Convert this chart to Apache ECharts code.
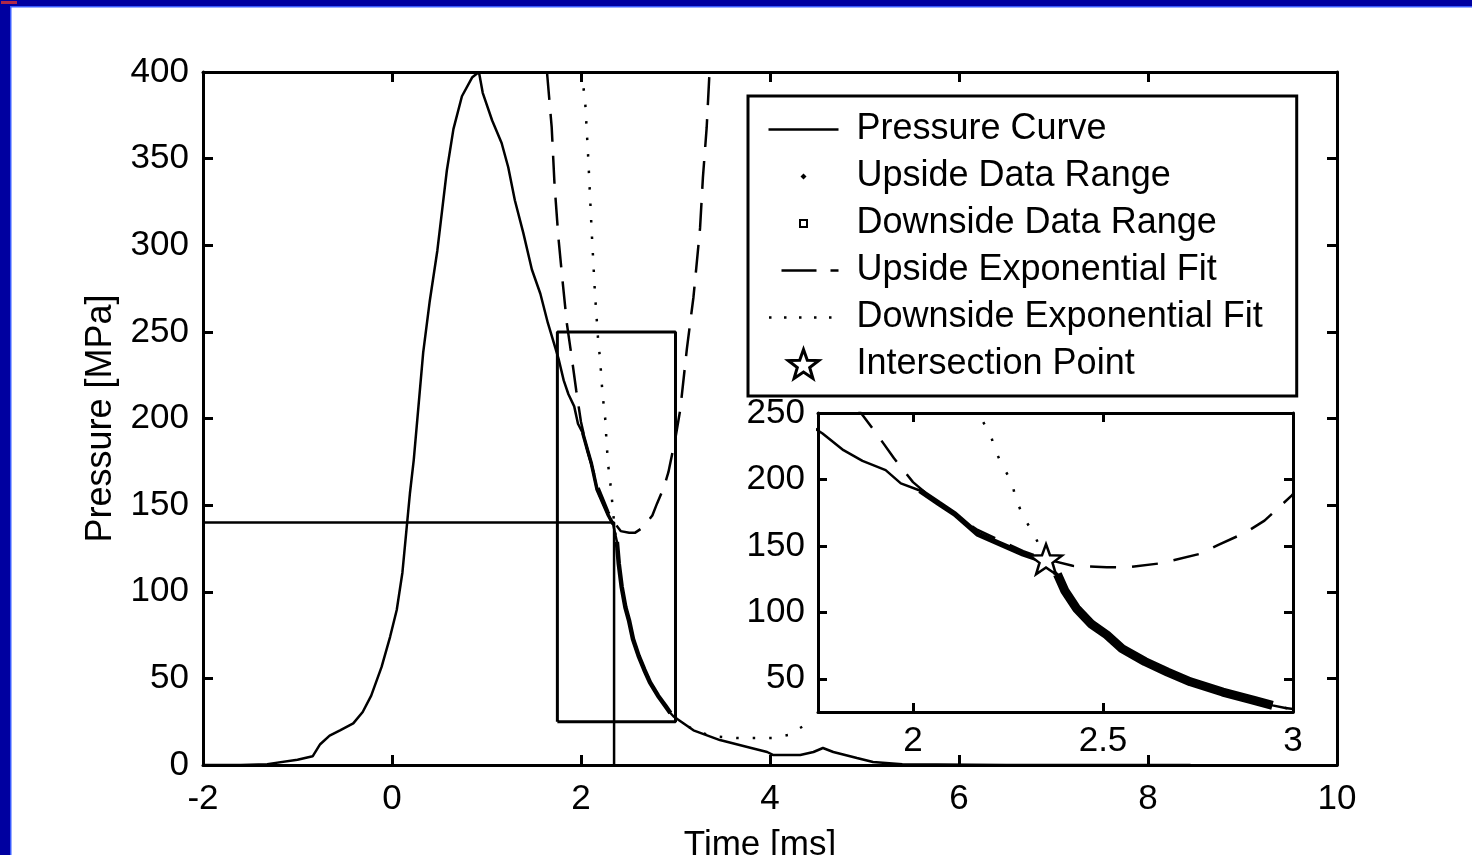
<!DOCTYPE html>
<html>
<head>
<meta charset="utf-8">
<script src="https://cdn.jsdelivr.net/npm/echarts@6/dist/echarts.min.js"></script>
<style>
html,body{margin:0;padding:0;background:#fff;}
#c{width:1472px;height:855px;}
</style>
</head>
<body>
<div id="c"></div>
<script>
// ---- data ----
const pressureTime = [
  -2, -1.6, -1.32, -1.0, -0.84, -0.76, -0.66, -0.55, -0.41, -0.31,
  -0.22, -0.11, -0.02, 0.05, 0.11, 0.15, 0.19, 0.23, 0.33, 0.40,
  0.48, 0.53, 0.58, 0.65, 0.74, 0.85, 0.92, 0.96, 1.06, 1.16,
  1.23, 1.30, 1.39, 1.48, 1.57, 1.65, 1.70, 1.762, 1.817, 1.867,
  1.928, 1.968, 2.018, 2.068, 2.11, 2.17, 2.23, 2.29, 2.34, 2.38,
  2.40, 2.43, 2.47, 2.51, 2.55, 2.61, 2.67, 2.73, 2.815, 2.895,
  2.946, 2.98, 3.19, 3.47, 3.76, 3.97, 4.03, 4.32, 4.46, 4.56,
  4.67, 4.92, 5.09, 5.4, 6.5, 7.5, 8.45
];
const pressureValue = [
  0, 0, 0.5, 3, 5, 12, 17, 20, 24, 30.6,
  40, 56.6, 74, 89.5, 111, 134, 157, 176, 238, 268,
  297, 320, 343, 367, 386, 397, 400, 388, 372, 359,
  345, 326, 307, 286, 272, 255, 246, 234.6, 222, 214,
  207, 197, 191.7, 182, 174, 159, 151.5, 144, 139, 128.8,
  116, 103, 91, 83, 72.7, 63, 55, 47.7, 40, 34,
  30, 28, 20, 14.4, 10.4, 7.5, 5.8, 5.8, 7.5, 9.8,
  7.5, 4, 1.7, 0.5, 0, 0, 0
];
const upFitTime = [1.64, 1.69, 1.72, 1.76, 1.80, 1.85, 1.90, 1.95, 2.00, 2.07,
  2.17, 2.29, 2.35, 2.42, 2.51, 2.57, 2.654, 2.755, 2.805, 2.875,
  2.925, 2.997, 3.05, 3.12, 3.15, 3.19, 3.22, 3.26, 3.29, 3.33, 3.36];
const upFitValue = [400, 368, 335, 305, 282, 255, 236, 216, 198, 181,
  162, 146, 140, 135, 134, 134, 137, 144, 151, 160,
  169, 188, 205, 240, 253, 270, 287, 310, 339, 368, 400];
const downFitTime = [2.00, 2.042, 2.077, 2.113, 2.148, 2.183, 2.205, 2.215, 2.234, 2.26,
  2.27, 2.29, 2.316, 2.35, 2.40, 2.47, 2.55, 2.67, 2.815, 2.946,
  3.0, 3.2, 3.4, 3.65, 3.84, 4.02, 4.19, 4.37];
const downFitValue = [400, 385, 350, 308, 272, 244, 233, 223, 211, 198,
  186, 172, 160, 140, 116, 91, 73, 55, 40, 30,
  27, 20, 16.5, 15.6, 15.6, 15.6, 17.3, 23];
const intersectionPoint = [2.35, 140];
const upsideRange = [2.0, 2.345];
const downsideRange = [2.375, 2.96];
const zoomTime = [1.75, 3];
const zoomPressure = [25, 250];
const mainTimeTicks = [-2, 0, 2, 4, 6, 8, 10];
const mainPressureTicks = [0, 50, 100, 150, 200, 250, 300, 350, 400];
const insetTimeTicks = [2, 2.5, 3];
const insetPressureTicks = [50, 100, 150, 200, 250];

// ---- derived ----
const zip = (a, b) => a.map((x, i) => [x, b[i]]);
const pressure = zip(pressureTime, pressureValue);
const upFit = zip(upFitTime, upFitValue);
const downFit = zip(downFitTime, downFitValue);
const upsideData = pressure.filter(p => p[0] >= upsideRange[0] && p[0] <= upsideRange[1]);
const downsideData = pressure.filter(p => p[0] >= downsideRange[0] && p[0] <= downsideRange[1]);
const zoomBox = [
  [zoomTime[0], zoomPressure[0]], [zoomTime[0], zoomPressure[1]],
  [zoomTime[1], zoomPressure[1]], [zoomTime[1], zoomPressure[0]],
  [zoomTime[0], zoomPressure[0]]
];
const crossLines = [
  [mainTimeTicks[0], intersectionPoint[1]],
  [intersectionPoint[0], intersectionPoint[1]],
  [intersectionPoint[0], mainPressureTicks[0]]
];

const FONT = '"Liberation Sans", Arial, Helvetica, sans-serif';
const BLACK = '#000';

const starPath = 'M16,0 L19.82,10.74 L31.22,11.06 L22.18,18.01 L25.4,28.94 L16,22.5 L6.6,28.94 L9.82,18.01 L0.78,11.06 L12.18,10.74 Z';
const starIcon = 'path://M0,0 M70,32 M35,1 L38.82,11.74 L50.22,12.06 L41.18,19.01 L44.4,29.94 L35,23.5 L25.6,29.94 L28.82,19.01 L19.78,12.06 L31.18,11.74 Z';
const solidIcon = 'path://M0,0 M70,32 M0,14.75 H70 V17.25 H0 Z';
const dashIcon = 'path://M0,0 M70,32 M13,14.75 H48 V17.25 H13 Z M62,14.75 H70 V17.25 H62 Z';
const dotIcon = 'path://M0,0 M70,32 M0.5,14.75 H3 V17.25 H0.5 Z M15.5,14.75 H18 V17.25 H15.5 Z M30.5,14.75 H33 V17.25 H30.5 Z M45.5,14.75 H48 V17.25 H45.5 Z M60.5,14.75 H63 V17.25 H60.5 Z';
const diamondIcon = 'path://M0,0 M70,32 M35,13 L38,16 L35,19 L32,16 Z';
const squareIcon = 'path://M0,0 M70,32 M30.5,11.5 H39.5 V20.5 H30.5 Z M32.5,13.5 V18.5 H37.5 V13.5 Z';

function axisCommon(extra) {
  return Object.assign({
    type: 'value',
    splitLine: { show: false },
    axisLine: { show: true, onZero: false, lineStyle: { color: BLACK, width: 3 } },
    axisTick: { show: true, inside: true, length: 10, lineStyle: { color: BLACK, width: 3 } },
    axisLabel: { show: true, color: BLACK, fontSize: 35, fontFamily: FONT, margin: 12 }
  }, extra);
}

const option = {
  backgroundColor: '#fff',
  animation: false,
  grid: [
    { left: 203, top: 72, width: 1134, height: 693, show: false, containLabel: false, outerBoundsMode: 'none' },
    { left: 818, top: 413, width: 475, height: 299, show: true, backgroundColor: '#fff', borderWidth: 0, z: 5,
      containLabel: false, outerBoundsMode: 'none' }
  ],
  xAxis: [
    axisCommon({ gridIndex: 0, position: 'bottom', min: mainTimeTicks[0], max: mainTimeTicks[mainTimeTicks.length - 1],
      axisTick: { show: true, inside: true, length: 10, customValues: mainTimeTicks, lineStyle: { color: BLACK, width: 3 } },
      axisLabel: { show: true, color: BLACK, fontSize: 35, fontFamily: FONT, margin: 17, customValues: mainTimeTicks },
      name: 'Time [ms]', nameLocation: 'middle', nameGap: 63,
      nameTextStyle: { color: BLACK, fontSize: 35, fontFamily: FONT, padding: [0, 20, 0, 0] } }),
    axisCommon({ gridIndex: 0, position: 'top', min: mainTimeTicks[0], max: mainTimeTicks[mainTimeTicks.length - 1],
      axisTick: { show: true, inside: true, length: 10, customValues: mainTimeTicks, lineStyle: { color: BLACK, width: 3 } },
      axisLabel: { show: false } }),
    axisCommon({ gridIndex: 1, position: 'bottom', min: zoomTime[0], max: zoomTime[1], z: 8,
      axisTick: { show: true, inside: true, length: 9, customValues: insetTimeTicks, lineStyle: { color: BLACK, width: 3 } },
      axisLabel: { show: true, color: BLACK, fontSize: 35, fontFamily: FONT, margin: 12, customValues: insetTimeTicks } }),
    axisCommon({ gridIndex: 1, position: 'top', min: zoomTime[0], max: zoomTime[1], z: 8,
      axisTick: { show: true, inside: true, length: 9, customValues: insetTimeTicks, lineStyle: { color: BLACK, width: 3 } },
      axisLabel: { show: false } })
  ],
  yAxis: [
    axisCommon({ gridIndex: 0, position: 'left', min: mainPressureTicks[0], max: mainPressureTicks[mainPressureTicks.length - 1],
      axisTick: { show: true, inside: true, length: 10, customValues: mainPressureTicks, lineStyle: { color: BLACK, width: 3 } },
      axisLabel: { show: true, color: BLACK, fontSize: 35, fontFamily: FONT, margin: 14, customValues: mainPressureTicks },
      name: 'Pressure [MPa]', nameLocation: 'middle', nameRotate: 90, nameGap: 84,
      nameTextStyle: { color: BLACK, fontSize: 36, fontFamily: FONT } }),
    axisCommon({ gridIndex: 0, position: 'right', min: mainPressureTicks[0], max: mainPressureTicks[mainPressureTicks.length - 1],
      axisTick: { show: true, inside: true, length: 10, customValues: mainPressureTicks, lineStyle: { color: BLACK, width: 3 } },
      axisLabel: { show: false } }),
    axisCommon({ gridIndex: 1, position: 'left', min: zoomPressure[0], max: zoomPressure[1], z: 8,
      axisTick: { show: true, inside: true, length: 9, customValues: insetPressureTicks, lineStyle: { color: BLACK, width: 3 } },
      axisLabel: { show: true, color: BLACK, fontSize: 35, fontFamily: FONT, margin: 13, customValues: insetPressureTicks } }),
    axisCommon({ gridIndex: 1, position: 'right', min: zoomPressure[0], max: zoomPressure[1], z: 8,
      axisTick: { show: true, inside: true, length: 9, customValues: insetPressureTicks, lineStyle: { color: BLACK, width: 3 } },
      axisLabel: { show: false } })
  ],
  legend: {
    orient: 'vertical', left: 748, top: 96, selectedMode: false, z: 6,
    itemWidth: 70, itemHeight: 32, itemGap: 0,
    padding: [10, 34, 8, 19],
    backgroundColor: '#fff', borderColor: BLACK, borderWidth: 3,
    textStyle: { color: BLACK, fontSize: 36, lineHeight: 47, fontFamily: FONT, padding: [0, 0, 0, 13] },
    data: [
      { name: 'Pressure Curve', icon: solidIcon, itemStyle: { color: BLACK, borderWidth: 0, opacity: 1 } },
      { name: 'Upside Data Range', icon: diamondIcon, itemStyle: { color: BLACK, borderWidth: 0, opacity: 1 } },
      { name: 'Downside Data Range', icon: squareIcon, itemStyle: { color: BLACK, borderWidth: 0, opacity: 1 } },
      { name: 'Upside Exponential Fit', icon: dashIcon, itemStyle: { color: BLACK, borderWidth: 0, opacity: 1 } },
      { name: 'Downside Exponential Fit', icon: dotIcon, itemStyle: { color: BLACK, borderWidth: 0, opacity: 1 } },
      { name: 'Intersection Point', icon: starIcon, itemStyle: { color: '#fff', borderColor: BLACK, borderWidth: 3, opacity: 1 } }
    ]
  },
  graphic: [
    { type: 'rect', shape: { x: 0, y: 0, width: 1472, height: 6 }, style: { fill: '#0000a0' }, z: 100 },
    { type: 'rect', shape: { x: 0, y: 6, width: 1472, height: 1.5 }, style: { fill: '#3a5cff' }, z: 100 },
    { type: 'rect', shape: { x: 0, y: 0, width: 10, height: 855 }, style: { fill: '#0000a0' }, z: 100 },
    { type: 'rect', shape: { x: 10, y: 7, width: 1.5, height: 848 }, style: { fill: '#3a5cff' }, z: 100 },
    { type: 'rect', shape: { x: 1, y: 1, width: 16, height: 3 }, style: { fill: '#b02848' }, z: 101 }
  ],
  series: [
    // ---- main plot ----
    { name: 'Pressure Curve', type: 'line', xAxisIndex: 0, yAxisIndex: 0, data: pressure, symbol: 'none',
      lineStyle: { color: BLACK, width: 2.5 }, itemStyle: { color: BLACK }, z: 2 },
    { name: 'Upside Data Range', type: 'line', xAxisIndex: 0, yAxisIndex: 0, data: upsideData, symbol: 'none',
      lineStyle: { color: BLACK, width: 3.5 }, itemStyle: { color: BLACK }, z: 2 },
    { name: 'Downside Data Range', type: 'line', xAxisIndex: 0, yAxisIndex: 0, data: downsideData, symbol: 'none',
      lineStyle: { color: BLACK, width: 4.5 }, itemStyle: { color: BLACK }, z: 2 },
    { name: 'Upside Exponential Fit', type: 'line', xAxisIndex: 0, yAxisIndex: 0, data: upFit, symbol: 'none',
      lineStyle: { color: BLACK, width: 2.5, type: [28, 14] }, itemStyle: { color: BLACK }, z: 2 },
    { name: 'Downside Exponential Fit', type: 'line', xAxisIndex: 0, yAxisIndex: 0, data: downFit, symbol: 'none',
      lineStyle: { color: BLACK, width: 2.5, type: [2.5, 14] }, itemStyle: { color: BLACK }, z: 2 },
    { name: 'zoomBox', type: 'line', xAxisIndex: 0, yAxisIndex: 0, data: zoomBox, symbol: 'none',
      lineStyle: { color: BLACK, width: 3 }, z: 2 },
    { name: 'crossLines', type: 'line', xAxisIndex: 0, yAxisIndex: 0, data: crossLines, symbol: 'none',
      lineStyle: { color: BLACK, width: 2.5 }, z: 2 },
    // ---- inset ----
    { name: 'Pressure Curve', type: 'line', xAxisIndex: 2, yAxisIndex: 2, data: pressure, symbol: 'none',
      lineStyle: { color: BLACK, width: 2.5 }, itemStyle: { color: BLACK }, z: 6 },
    { name: 'Upside Data Range', type: 'line', xAxisIndex: 2, yAxisIndex: 2, data: upsideData, symbol: 'none',
      lineStyle: { color: BLACK, width: 5.5 }, itemStyle: { color: BLACK }, z: 6 },
    { name: 'Downside Data Range', type: 'line', xAxisIndex: 2, yAxisIndex: 2, data: downsideData, symbol: 'none',
      lineStyle: { color: BLACK, width: 9 }, itemStyle: { color: BLACK }, z: 6 },
    { name: 'Upside Exponential Fit', type: 'line', xAxisIndex: 2, yAxisIndex: 2, data: upFit, symbol: 'none',
      lineStyle: { color: BLACK, width: 2.5, type: [26, 16] }, itemStyle: { color: BLACK }, z: 6 },
    { name: 'Downside Exponential Fit', type: 'line', xAxisIndex: 2, yAxisIndex: 2, data: downFit, symbol: 'none',
      lineStyle: { color: BLACK, width: 2.5, type: [2.5, 16] }, itemStyle: { color: BLACK }, z: 6 },
    { name: 'Intersection Point', type: 'scatter', xAxisIndex: 2, yAxisIndex: 2, data: [intersectionPoint],
      symbol: 'path://' + starPath, symbolSize: [32, 30],
      itemStyle: { color: '#fff', borderColor: BLACK, borderWidth: 2.5, opacity: 1 }, z: 7 }
  ]
};

const chart = echarts.init(document.getElementById('c'), null, { renderer: 'canvas' });
chart.setOption(option);
</script>
</body>
</html>
